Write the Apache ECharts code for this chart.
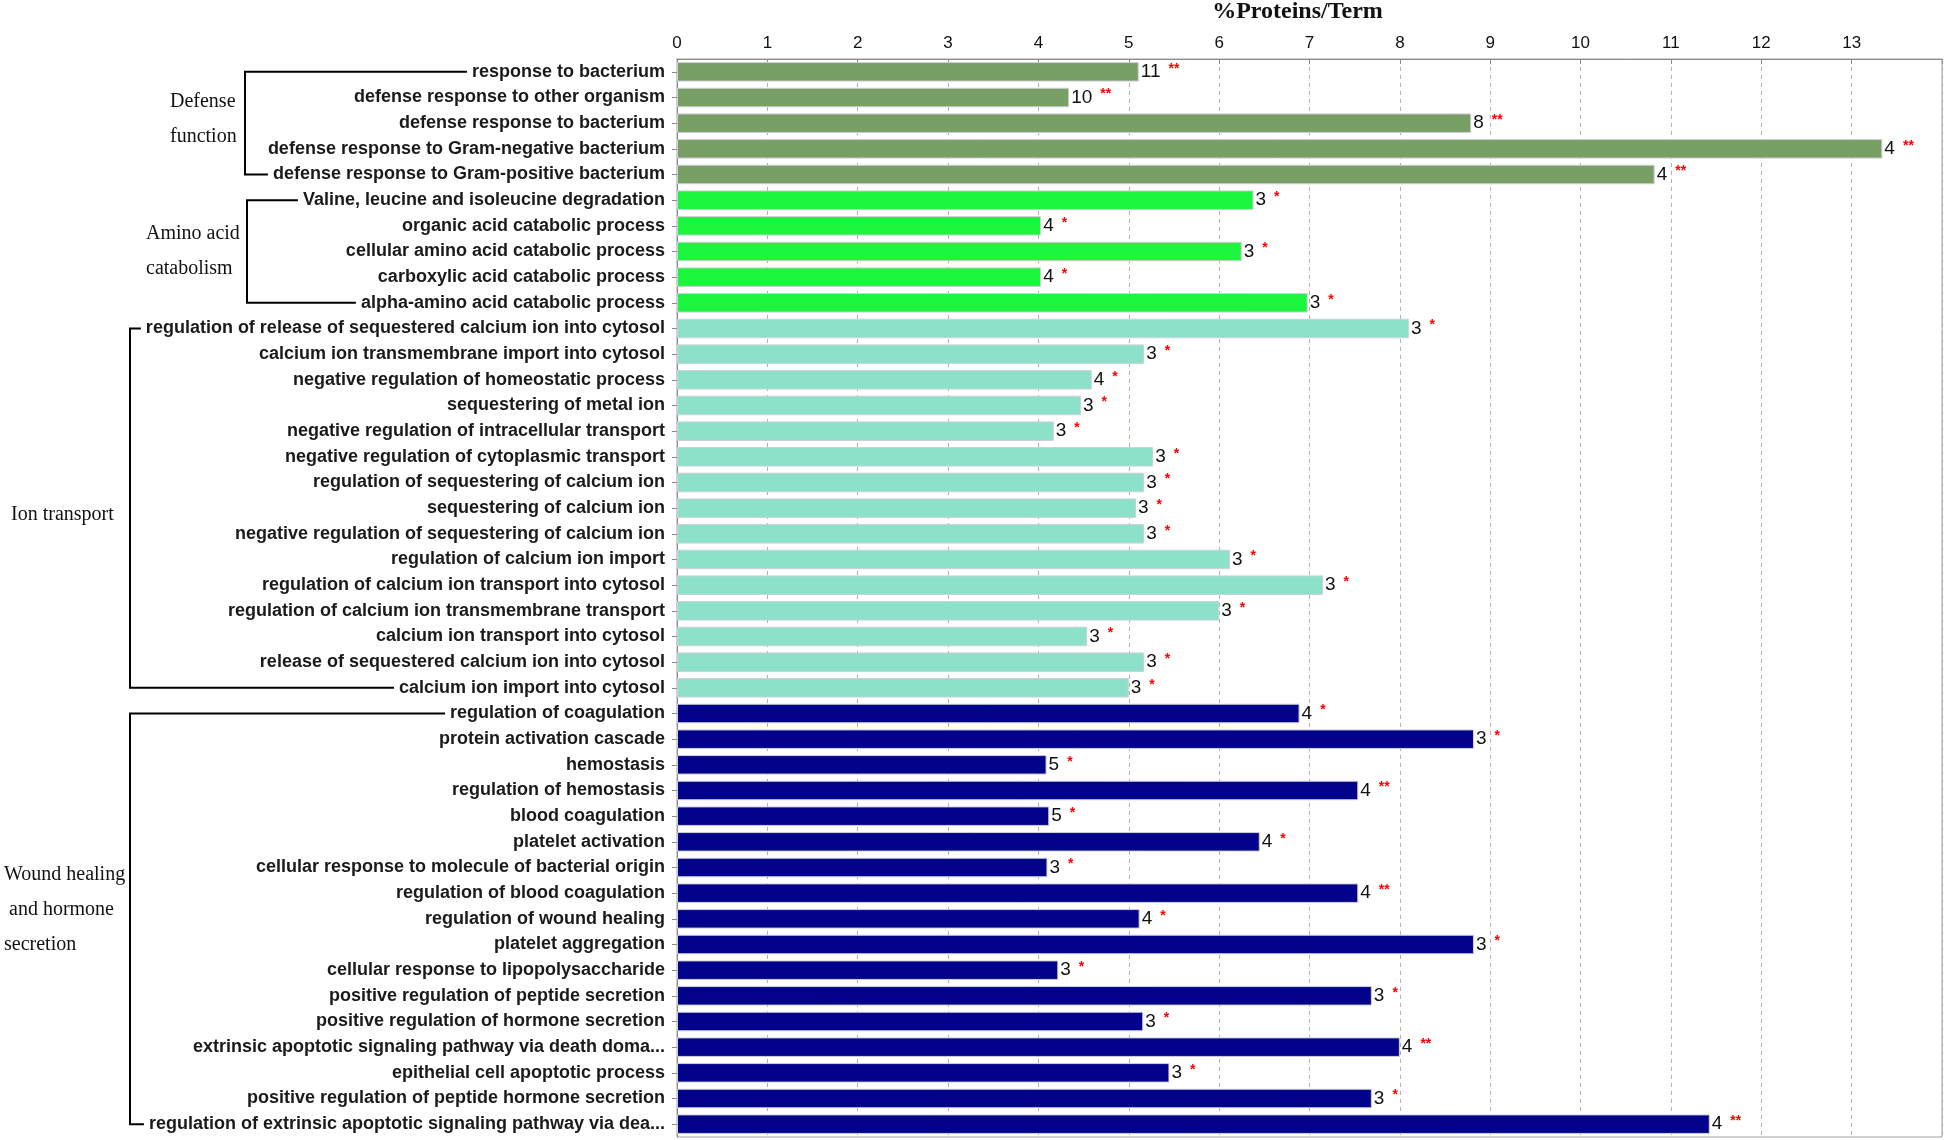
<!DOCTYPE html>
<html>
<head>
<meta charset="utf-8">
<script src="https://cdn.jsdelivr.net/npm/echarts@6/dist/echarts.min.js"></script>
<style>
  html, body { margin: 0; padding: 0; background: #fff; }
  #chart { width: 1946px; height: 1140px; }
</style>
</head>
<body>
<div id="chart"></div>
<script>
// GO terms, top to bottom
var categories = [
  'response to bacterium',
  'defense response to other organism',
  'defense response to bacterium',
  'defense response to Gram-negative bacterium',
  'defense response to Gram-positive bacterium',
  'Valine, leucine and isoleucine degradation',
  'organic acid catabolic process',
  'cellular amino acid catabolic process',
  'carboxylic acid catabolic process',
  'alpha-amino acid catabolic process',
  'regulation of release of sequestered calcium ion into cytosol',
  'calcium ion transmembrane import into cytosol',
  'negative regulation of homeostatic process',
  'sequestering of metal ion',
  'negative regulation of intracellular transport',
  'negative regulation of cytoplasmic transport',
  'regulation of sequestering of calcium ion',
  'sequestering of calcium ion',
  'negative regulation of sequestering of calcium ion',
  'regulation of calcium ion import',
  'regulation of calcium ion transport into cytosol',
  'regulation of calcium ion transmembrane transport',
  'calcium ion transport into cytosol',
  'release of sequestered calcium ion into cytosol',
  'calcium ion import into cytosol',
  'regulation of coagulation',
  'protein activation cascade',
  'hemostasis',
  'regulation of hemostasis',
  'blood coagulation',
  'platelet activation',
  'cellular response to molecule of bacterial origin',
  'regulation of blood coagulation',
  'regulation of wound healing',
  'platelet aggregation',
  'cellular response to lipopolysaccharide',
  'positive regulation of peptide secretion',
  'positive regulation of hormone secretion',
  'extrinsic apoptotic signaling pathway via death doma...',
  'epithelial cell apoptotic process',
  'positive regulation of peptide hormone secretion',
  'regulation of extrinsic apoptotic signaling pathway via dea...'
];

// %Proteins/Term
var percents = [
  5.11, 4.34, 8.79, 13.34, 10.82,
  6.38, 4.03, 6.25, 4.03, 6.98,
  8.10, 5.17, 4.59, 4.47, 4.17, 5.27, 5.17, 5.08, 5.17, 6.12, 7.15, 6.00, 4.54, 5.17, 5.00,
  6.89, 8.82, 4.09, 7.54, 4.12, 6.45, 4.10, 7.54, 5.12, 8.82, 4.22, 7.69, 5.16, 8.00, 5.45, 7.69, 11.43
];

// protein counts shown next to the bars
var counts = [
  11, 10, 8, 4, 4,
  3, 4, 3, 4, 3,
  3, 3, 4, 3, 3, 3, 3, 3, 3, 3, 3, 3, 3, 3, 3,
  4, 3, 5, 4, 5, 4, 3, 4, 4, 3, 3, 3, 3, 4, 3, 3, 4
];

// significance marks
var stars = [
  '**', '**', '**', '**', '**',
  '*', '*', '*', '*', '*',
  '*', '*', '*', '*', '*', '*', '*', '*', '*', '*', '*', '*', '*', '*', '*',
  '*', '*', '*', '**', '*', '*', '*', '**', '*', '*', '*', '*', '*', '**', '*', '*', '**'
];

var groupNames = ['Defense\nfunction', 'Amino acid\ncatabolism', 'Ion transport', 'Wound healing\n and hormone\nsecretion'];
var groupSizes = [5, 5, 15, 17];
var xTickLabels = ['0', '1', '2', '3', '4', '5', '6', '7', '8', '9', '10', '11', '12', '13', ''];

// styling / layout
var groupColors = ['#789f64', '#1cf53e', '#8be2c9', '#02028a'];
var groupLabelX = [170, 146, 11, 4];
var groupLabelDy = [-3.5, -0.5, 6.5, -9.5];
var bracketX = [245, 247, 130, 130];
var labelFont = 'bold 18px "Liberation Sans"';
var gridLeft = 677, labelMargin = 12;

var groupOf = [];
groupSizes.forEach(function (n, g) {
  for (var i = 0; i < n; i++) groupOf.push(g);
});

var chart = echarts.init(document.getElementById('chart'));

var option = {
  animation: false,
  grid: {
    left: gridLeft, right: 4, top: 59, bottom: 3,
    outerBoundsMode: 'none',
    show: true, borderColor: '#a0a0a0', borderWidth: 1
  },
  xAxis: {
    type: 'value',
    position: 'top',
    min: 0, max: 14, interval: 1,
    name: '%Proteins/Term',
    nameLocation: 'middle',
    nameGap: 35,
    nameTextStyle: {
      fontFamily: 'Liberation Serif', fontWeight: 'bold', fontSize: 24, color: '#111',
      padding: [0, 24, 0, 0]
    },
    axisLine: { show: true, lineStyle: { color: '#8c8c8c' } },
    axisTick: { show: true, inside: true, length: 5, lineStyle: { color: '#8c8c8c' } },
    axisLabel: {
      margin: 7, fontFamily: 'Liberation Sans', fontSize: 17, color: '#111',
      formatter: function (v) { return xTickLabels[Math.round(v)]; }
    },
    splitLine: { show: true, lineStyle: { color: '#b0b0b0', type: [4, 4] } }
  },
  yAxis: {
    type: 'category',
    inverse: true,
    data: categories,
    axisLine: { show: true, lineStyle: { color: '#8c8c8c' } },
    axisTick: { show: true, length: 5, alignWithLabel: true, lineStyle: { color: '#8c8c8c' } },
    axisLabel: {
      interval: 0, margin: labelMargin,
      fontFamily: 'Liberation Sans', fontWeight: 'bold', fontSize: 18, color: '#1a1a1a'
    }
  },
  series: [{
    type: 'bar',
    data: percents,
    barCategoryGap: '24%',
    itemStyle: {
      color: function (p) { return groupColors[groupOf[p.dataIndex]]; },
      borderColor: '#cfcfdc',
      borderWidth: 1
    },
    label: {
      show: true,
      position: 'right',
      distance: 2,
      formatter: function (p) {
        return '{n|' + counts[p.dataIndex] + '}{s|' + stars[p.dataIndex] + '}';
      },
      rich: {
        n: { fontFamily: 'Liberation Sans', fontSize: 19, color: '#111', lineHeight: 20 },
        s: {
          fontFamily: 'Liberation Sans', fontSize: 14, color: '#ff0000', fontWeight: 'bold',
          verticalAlign: 'top', lineHeight: 12, padding: [0, 0, 0, 8]
        }
      }
    }
  }]
};
chart.setOption(option);

// group brackets and group names
var ctx = document.createElement('canvas').getContext('2d');
ctx.font = labelFont;
var elements = [];
var start = 0;
groupSizes.forEach(function (n, g) {
  var first = start, last = start + n - 1;
  var yTop = chart.convertToPixel({ yAxisIndex: 0 }, first);
  var yBot = chart.convertToPixel({ yAxisIndex: 0 }, last);
  var edge = gridLeft - labelMargin;
  var xTopEnd = edge - ctx.measureText(categories[first]).width - 5;
  var xBotEnd = edge - ctx.measureText(categories[last]).width - 5;
  elements.push({
    type: 'polyline',
    shape: { points: [[xTopEnd, yTop], [bracketX[g], yTop], [bracketX[g], yBot], [xBotEnd, yBot]] },
    style: { stroke: '#000', lineWidth: 2, fill: null }
  });
  elements.push({
    type: 'text',
    x: groupLabelX[g],
    y: (yTop + yBot) / 2 + groupLabelDy[g],
    style: {
      text: groupNames[g],
      fontFamily: 'Liberation Serif', fontSize: 20, fill: '#111',
      lineHeight: 35, verticalAlign: 'middle', align: 'left'
    }
  });
  start += n;
});
chart.setOption({ graphic: elements });
</script>
</body>
</html>
